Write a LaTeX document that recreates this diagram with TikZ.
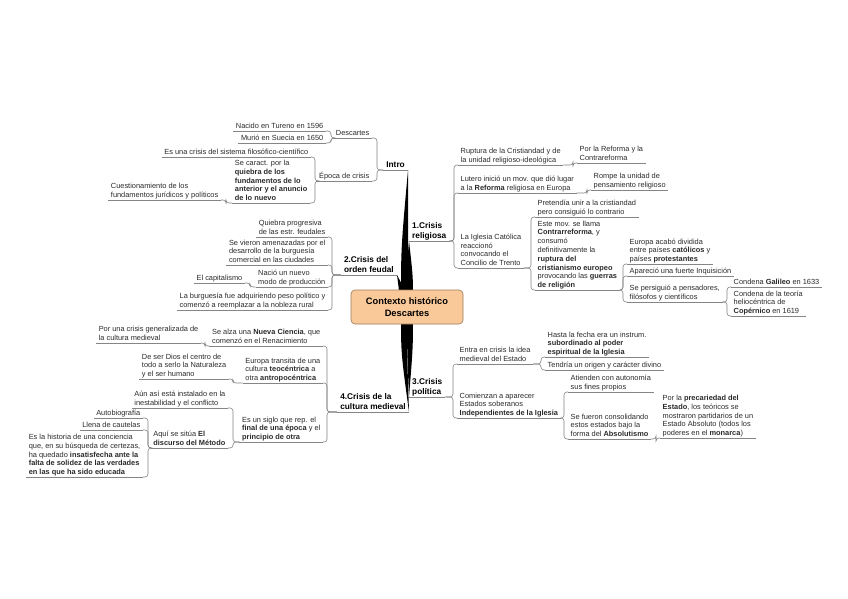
\documentclass[tikz,border=0pt]{standalone}
\usepackage{fontspec}
\setmainfont{Liberation Sans}
\newcommand\lffont{\fontsize{7.4}{8.8}\selectfont}
\newcommand\mtfont{\fontsize{8.3}{9.6}\selectfont\bfseries}
\newcommand\ctfont{\fontsize{9.3}{12}\selectfont\bfseries}
\definecolor{peach}{HTML}{FAC99A}
\definecolor{peachdraw}{HTML}{9C7A5A}
\definecolor{lncol}{HTML}{858585}
\definecolor{txt}{HTML}{2A2A2A}
\newcommand\lconn[3]{\draw[ln] (#1.south west) -- (#2,0 |- #1.south west) |- (#3.south east);}
\newcommand\rconn[3]{\draw[ln] (#1.south east) -- (#2,0 |- #1.south east) |- (#3.south west);}
\newcommand\mmul[1]{\draw[ulin] (#1.south west) -- (#1.south east);}
\newcommand\mmwedge[5]{\fill[black] (#1,#3) .. controls (#1,{#3+0.4*(#5-#3)}) .. (#4,#5) .. controls (#2,{#3+0.4*(#5-#3)}) .. (#2,#3) -- cycle;}
\begin{document}
\begin{tikzpicture}[x=1pt,y=-1pt,
  leaf/.style={inner xsep=2.5pt, inner ysep=0.6pt, text depth=1.6pt, align=left, font=\lffont, text=txt},
  lft/.style={leaf, anchor=south east},
  rgt/.style={leaf, anchor=south west},
  mtop/.style={inner xsep=3pt, inner ysep=0.8pt, text depth=1.8pt, align=left, font=\mtfont, text=black},
  ln/.style={draw=lncol, line width=0.6pt, rounded corners=3pt},
  ulin/.style={draw=lncol, line width=0.6pt},
  ctr/.style={draw=peachdraw, fill=peach, line width=0.6pt, rounded corners=4pt, minimum width=112pt, minimum height=34pt, align=center, font=\ctfont, inner sep=1pt}
]
\fill[white] (0,0) rectangle (848,599);
\useasboundingbox (0,0) rectangle (848,599);

% wedges
\mmwedge{401}{408}{300}{408}{170}
\mmwedge{406}{413}{300}{409}{241}
\mmwedge{399}{405}{300}{397}{275}
\mmwedge{407}{413}{314}{409}{397}
\mmwedge{401}{407}{314}{409}{412}

\node[ctr] (ctr) at (407,307) {Contexto histórico\\Descartes};

% main topics
\node[mtop, anchor=south east] (intro) at (408,170) {Intro};
\node[mtop, anchor=south west] (relig) at (409,241) {1.Crisis\\religiosa};
\node[mtop, anchor=south east] (feudal) at (397,275) {2.Crisis del\\orden feudal};
\node[mtop, anchor=south west] (pol) at (409,397) {3.Crisis\\política};
\node[mtop, anchor=south east] (cult) at (409,412) {4.Crisis de la\\cultura medieval};

% Intro
\node[lft] (desc) at (372,138) {Descartes};
\node[lft] (nac) at (326,131) {Nacido en Tureno en 1596};
\node[lft] (mur) at (326,143) {Murió en Suecia en 1650};
\node[lft] (epoca) at (372,181) {Época de crisis};
\node[lft] (esuna) at (311,157) {Es una crisis del sistema filosófico-científico};
\node[lft] (secar) at (310,203) {Se caract. por la\\\textbf{quiebra de los}\\\textbf{fundamentos de lo}\\\textbf{anterior y el anuncio}\\\textbf{de lo nuevo}};
\node[lft] (cuest) at (221,200) {Cuestionamiento de los\\fundamentos jurídicos y políticos};

% 2 feudal
\node[lft] (quie) at (328,237) {Quiebra progresiva\\de las estr. feudales};
\node[lft] (sevie) at (328,265) {Se vieron amenazadas por el\\desarrollo de la burguesía\\comercial en las ciudades};
\node[lft] (nacio) at (328,287) {Nació un nuevo\\modo de producción};
\node[lft] (capit) at (245,283) {El capitalismo};
\node[lft] (burg) at (328,310) {La burguesía fue adquiriendo peso político y\\comenzó a reemplazar a la nobleza rural};

% 4 cultura
\node[lft] (sealza) at (323,346) {Se alza una \textbf{Nueva Ciencia}, que\\comenzó en el Renacimiento};
\node[lft] (porun) at (201,343) {Por una crisis generalizada de\\la cultura medieval};
\node[lft] (europa) at (323,383) {Europa transita de una\\cultura \textbf{teocéntrica} a\\otra \textbf{antropocéntrica}};
\node[lft] (deser) at (229,379) {De ser Dios el centro de\\todo a serlo la Naturaleza\\y el ser humano};
\node[lft] (esun) at (323,442) {Es un siglo que rep. el\\\textbf{final de una época} y el\\\textbf{principio de otra}};
\node[lft] (aun) at (228,408) {Aún así está instalado en la\\inestabilidad y el conflicto};
\node[lft] (aqui) at (228,448) {Aquí se sitúa \textbf{El}\\\textbf{discurso del Método}};
\node[lft] (auto) at (143,418) {Autobiografía};
\node[lft] (llena) at (143,430) {Llena de cautelas};
\node[lft] (eshist) at (143,477) {Es la historia de una conciencia\\que, en su búsqueda de certezas,\\ha quedado \textbf{insatisfecha ante la}\\\textbf{falta de solidez de las verdades}\\\textbf{en las que ha sido educada}};

% 1 religiosa
\node[rgt] (rupt) at (458,165) {Ruptura de la Cristiandad y de\\la unidad religioso-ideológica};
\node[rgt] (porla) at (577,163) {Por la Reforma y la\\Contrareforma};
\node[rgt] (lutero) at (458,193) {Lutero inició un mov. que dió lugar\\a la \textbf{Reforma} religiosa en Europa};
\node[rgt] (rompe) at (591,190) {Rompe la unidad de\\pensamiento religioso};
\node[rgt] (igle) at (458,268) {La Iglesia Católica\\reaccionó\\convocando el\\Concilio de Trento};
\node[rgt] (pret) at (535,217) {Pretendía unir a la cristiandad\\pero consiguió lo contrario};
\node[rgt] (este) at (535,290) {Este mov. se llama\\\textbf{Contrarreforma}, y\\consumó\\definitivamente la\\\textbf{ruptura del}\\\textbf{cristianismo europeo}\\provocando las \textbf{guerras}\\\textbf{de religión}};
\node[rgt] (euro) at (627,264) {Europa acabó dividida\\entre países \textbf{católicos} y\\países \textbf{protestantes}};
\node[rgt] (apar) at (627,276) {Apareció una fuerte Inquisición};
\node[rgt] (pers) at (627,302) {Se persiguió a pensadores,\\filósofos y científicos};
\node[rgt] (gali) at (731,287) {Condena \textbf{Galileo} en 1633};
\node[rgt] (cond) at (731,316) {Condena de la teoría\\heliocéntrica de\\\textbf{Copérnico} en 1619};

% 3 politica
\node[rgt] (entra) at (457,364) {Entra en crisis la idea\\medieval del Estado};
\node[rgt] (hasta) at (545,357) {Hasta la fecha era un instrum.\\\textbf{subordinado al poder}\\\textbf{espiritual de la Iglesia}};
\node[rgt] (tend) at (545,370) {Tendría un origen y carácter divino};
\node[rgt] (comien) at (457,418) {Comienzan a aparecer\\Estados soberanos\\\textbf{Independientes de la Iglesia}};
\node[rgt] (atien) at (568,392) {Atienden con autonomía\\sus fines propios};
\node[rgt] (sefue) at (568,439) {Se fueron consolidando\\estos estados bajo la\\forma del \textbf{Absolutismo}};
\node[rgt] (porlap) at (660,438) {Por la \textbf{precariedad del}\\\textbf{Estado}, los teóricos se\\mostraron partidarios de un\\Estado Absoluto (todos los\\poderes en el \textbf{monarca})};

% underlines
\foreach \n in {intro,relig,feudal,pol,cult,desc,nac,mur,epoca,esuna,secar,cuest,quie,sevie,nacio,capit,burg,sealza,porun,europa,deser,esun,aun,aqui,auto,llena,eshist,rupt,porla,lutero,rompe,igle,pret,este,euro,apar,pers,gali,cond,entra,hasta,tend,comien,atien,sefue,porlap}
  {\mmul{\n}}

% connectors left
\lconn{intro}{377}{desc}
\lconn{intro}{377}{epoca}
\lconn{desc}{331}{nac}
\lconn{desc}{331}{mur}
\lconn{epoca}{315}{esuna}
\lconn{epoca}{315}{secar}
\lconn{secar}{226}{cuest}
\lconn{feudal}{332}{quie}
\lconn{feudal}{332}{sevie}
\lconn{feudal}{332}{nacio}
\lconn{feudal}{332}{burg}
\lconn{nacio}{250}{capit}
\lconn{cult}{327}{sealza}
\lconn{cult}{327}{europa}
\lconn{cult}{327}{esun}
\lconn{sealza}{205}{porun}
\lconn{europa}{233}{deser}
\lconn{esun}{233}{aun}
\lconn{esun}{233}{aqui}
\lconn{aqui}{148}{auto}
\lconn{aqui}{148}{llena}
\lconn{aqui}{148}{eshist}

% connectors right
\rconn{relig}{454}{rupt}
\rconn{relig}{454}{lutero}
\rconn{relig}{454}{igle}
\rconn{rupt}{573}{porla}
\rconn{lutero}{587}{rompe}
\rconn{igle}{531}{pret}
\rconn{igle}{531}{este}
\rconn{este}{623}{euro}
\rconn{este}{623}{apar}
\rconn{este}{623}{pers}
\rconn{pers}{727}{gali}
\rconn{pers}{727}{cond}
\rconn{pol}{453}{entra}
\rconn{pol}{453}{comien}
\rconn{entra}{541}{hasta}
\rconn{entra}{541}{tend}
\rconn{comien}{564}{atien}
\rconn{comien}{564}{sefue}
\rconn{sefue}{656}{porlap}
\end{tikzpicture}
\end{document}
